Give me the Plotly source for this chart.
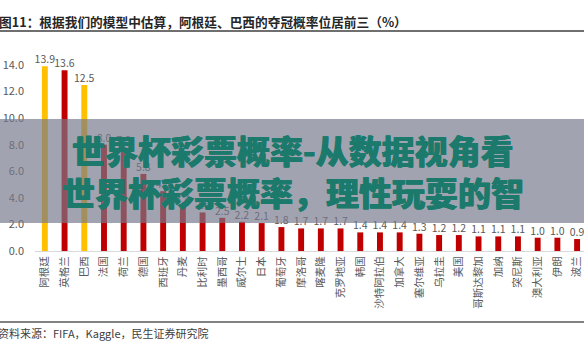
import plotly.graph_objects as go

countries = ["阿根廷", "英格兰", "巴西", "法国", "荷兰", "德国", "西班牙", "丹麦", "比利时",
             "墨西哥", "威尔士", "日本", "葡萄牙", "摩洛哥", "喀麦隆", "克罗地亚", "韩国",
             "沙特阿拉伯", "加拿大", "塞尔维亚", "乌拉圭", "美国", "哥斯达黎加", "加纳",
             "突尼斯", "澳大利亚", "伊朗", "波兰"]
probs = [13.9, 13.6, 12.5, 8.0, 7.8, 5.8, 4.5, 3.4, 2.9,
         2.5, 2.2, 2.1, 1.8, 1.7, 1.7, 1.7, 1.4,
         1.4, 1.4, 1.3, 1.2, 1.2, 1.1, 1.1,
         1.1, 1.0, 1.0, 0.9]
highlight = ["阿根廷", "巴西"]
y_ticks = [0, 2, 4, 6, 8, 10, 12, 14]

title_text = "图11：根据我们的模型中估算，阿根廷、巴西的夺冠概率位居前三（%）"
source_text = "资料来源：FIFA，Kaggle，民生证券研究院"
band_line1 = "世界杯彩票概率-从数据视角看"
band_line2 = "世界杯彩票概率，理性玩耍的智"

W, H = 584, 342
L, R, T, B = 35, 0, 45, 91
PW, PH = W - L - R, H - T - B

def px(x):
    return (x - L) / PW

def py(y):
    return (H - B - y) / PH

colors = ["#FFC000" if c in highlight else "#C00000" for c in countries]
font_cjk = "Noto Sans CJK SC, Microsoft YaHei, sans-serif"
band_color = "#1B7A6C"
thick = ", ".join(f"{dx}px {dy}px 0 {band_color}" for dx, dy in
                  [(0.4, 0), (-0.4, 0)])

fig = go.Figure(go.Bar(
    x=countries, y=probs,
    marker=dict(color=colors, line=dict(width=0)),
    text=[f"{v:.1f}" for v in probs],
    textposition="outside",
    textfont=dict(size=10.5, color="#595959", family=font_cjk),
    constraintext="none",
    cliponaxis=False,
))

fig.update_layout(
    width=W, height=H,
    margin=dict(l=L, r=R, t=T, b=B, pad=0),
    paper_bgcolor="white", plot_bgcolor="white",
    bargap=0.7,
    showlegend=False,
    font=dict(family=font_cjk, color="#595959"),
    xaxis=dict(
        range=[-0.5, 27.35],
        tickangle=-90,
        tickfont=dict(size=10.5, color="#595959", family=font_cjk),
        showline=True, linecolor="#D9D9D9", linewidth=1,
        ticks="", showgrid=False,
    ),
    yaxis=dict(
        range=[0, PH / 13.29],
        tickvals=y_ticks,
        ticktext=[f"{v:.1f}" for v in y_ticks],
        tickfont=dict(size=11, color="#595959", family=font_cjk),
        showgrid=False, zeroline=False, showline=False, ticks="",
        ticklabelstandoff=10,
    ),
)

shapes = [
    dict(type="line", xref="paper", yref="paper", x0=px(0), x1=px(W), y0=py(31), y1=py(31),
         line=dict(color="#3F3F3F", width=1.5), layer="above"),
    dict(type="line", xref="paper", yref="paper", x0=px(0), x1=px(W), y0=py(322), y1=py(322),
         line=dict(color="#595959", width=1.5), layer="above"),
    dict(type="rect", xref="paper", yref="paper", x0=px(0), x1=px(W), y0=py(223), y1=py(119),
         fillcolor="rgba(118,120,138,0.68)", line=dict(width=0), layer="above"),
]
fig.update_layout(shapes=shapes)

annotations = [
    dict(text=f"<b>{title_text}</b>", xref="paper", yref="paper", x=px(-3), y=py(21),
         xanchor="left", yanchor="middle", showarrow=False,
         font=dict(size=12.7, color="#262626", family=font_cjk)),
    dict(text=source_text, xref="paper", yref="paper", x=px(-4), y=py(333),
         xanchor="left", yanchor="middle", showarrow=False,
         font=dict(size=11, color="#404040", family=font_cjk)),
    dict(text=band_line1, xref="paper", yref="paper", x=px(293), y=py(150),
         xanchor="center", yanchor="middle", showarrow=False,
         font=dict(size=33, color=band_color, family=font_cjk, weight=900, shadow=thick)),
    dict(text=band_line2, xref="paper", yref="paper", x=px(293), y=py(192),
         xanchor="center", yanchor="middle", showarrow=False,
         font=dict(size=33, color=band_color, family=font_cjk, weight=900, shadow=thick)),
]
fig.update_layout(annotations=annotations)

fig.write_html("out.html")
